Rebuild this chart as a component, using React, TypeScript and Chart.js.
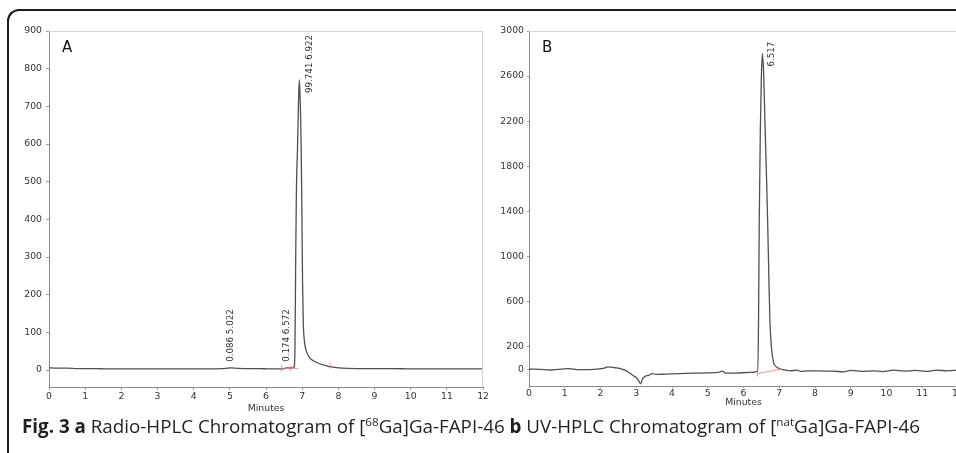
import React, { useEffect, useRef } from "react";
import { Chart, registerables } from "chart.js";
Chart.register(...registerables);

// ---------- Panel A: Radio-HPLC ----------
const timesA = [0, 0.2, 0.5, 0.8, 1.0, 1.3, 1.6, 2.0, 2.4, 2.8, 3.2, 3.6, 4.0, 4.4, 4.8, 4.95, 5.022, 5.1, 5.4, 5.8, 6.1, 6.4, 6.5, 6.572, 6.65, 6.74, 6.78, 6.80, 6.82, 6.84, 6.87, 6.90, 6.92, 6.94, 6.97, 6.99, 7.01, 7.03, 7.06, 7.10, 7.16, 7.22, 7.32, 7.45, 7.60, 7.72, 7.90, 8.10, 8.5, 9.0, 9.5, 10.0, 10.5, 11.0, 11.5, 12.0];
const valuesA = [6, 5, 5, 4, 4, 4, 3, 3, 3, 3, 3, 3, 3, 3, 4, 5, 6, 5, 4, 4, 3, 3, 4, 6, 5, 6, 9, 60, 300, 480, 590, 720, 770, 730, 600, 430, 230, 125, 78, 54, 40, 31, 24, 18, 13, 10, 7, 5, 4, 4, 4, 3, 3, 3, 3, 3];
const yTicksA = [0, 100, 200, 300, 400, 500, 600, 700, 800, 900];
const peakTimesA = [5.022, 6.572, 6.922];
const peakTextA = ["0.086 5.022", "0.174 6.572", "99.741 6.922"];
const redTimesA = [6.43, 6.9, 6.9, 6.43, 6.43, 6.43, 6.67, 6.67, 6.67, 7.77, 7.77];
const redValuesA = [4.5, 4.5, null, -4, 13, null, -3, 12, null, 3, 19];

// ---------- Panel B: UV-HPLC ----------
const timesB = [0, 0.3, 0.6, 0.9, 1.1, 1.4, 1.7, 2.0, 2.1, 2.2, 2.4, 2.6, 2.75, 2.9, 3.0, 3.06, 3.12, 3.18, 3.25, 3.35, 3.45, 3.55, 3.8, 4.2, 4.6, 5.0, 5.3, 5.4, 5.5, 5.8, 6.1, 6.3, 6.36, 6.40, 6.42, 6.44, 6.47, 6.50, 6.53, 6.56, 6.60, 6.64, 6.68, 6.71, 6.74, 6.78, 6.84, 6.92, 7.0, 7.1, 7.3, 7.5, 7.6, 7.8, 8.0, 8.3, 8.5, 8.8, 9.0, 9.3, 9.6, 9.9, 10.2, 10.5, 10.8, 11.1, 11.4, 11.7, 12.0];
const valuesB = [0, -2, -8, 0, 5, -5, -5, 3, 8, 20, 12, 0, -20, -55, -75, -100, -130, -85, -65, -55, -40, -47, -45, -40, -36, -33, -30, -18, -35, -35, -30, -28, -20, -25, 400, 1300, 2100, 2600, 2800, 2650, 2200, 1750, 1250, 800, 420, 200, 60, 20, 5, -5, -15, -10, -20, -15, -15, -18, -18, -25, -12, -20, -15, -22, -10, -18, -12, -20, -10, -15, -10];
const yTicksB = [0, 200, 600, 1000, 1400, 1800, 2200, 2600, 3000];
const peakTimesB = [6.517];
const peakTextB = ["6.517"];
const redTimesB = [6.39, 6.99, 6.99, 6.39, 6.39, 6.39, 6.99, 6.99];
const redValuesB = [-40, -5, null, -68, -8, null, -15, 20];

const xTicks = [0, 1, 2, 3, 4, 5, 6, 7, 8, 9, 10, 11, 12];

const FONT = '"DejaVu Sans", Verdana, sans-serif';

function pts(t: number[], v: (number | null)[]) {
  return t.map((x, i) => ({ x, y: v[i] }));
}

function peakValue(t: number[], v: number[], rt: number) {
  let m = -Infinity;
  for (let i = 0; i < t.length; i++) if (Math.abs(t[i] - rt) <= 0.04) m = Math.max(m, v[i]);
  if (m === -Infinity) {
    for (let i = 1; i < t.length; i++) {
      if (t[i] >= rt) {
        const f = (rt - t[i - 1]) / (t[i] - t[i - 1]);
        return v[i - 1] + f * (v[i] - v[i - 1]);
      }
    }
  }
  return m;
}

type PanelCfg = {
  letter: string;
  times: number[];
  values: number[];
  yTicks: number[];
  yMin: number;
  yMax: number;
  peakTimes: number[];
  peakText: string[];
  redTimes: number[];
  redValues: (number | null)[];
  width: number;
  height: number;
  padTop: number;
  padRight: number;
  yAxisWidth: number;
  xAxisHeight: number;
  xTickLen: number;
  xTickPad: number;
  yTickLen: number;
  yTickPad: number;
  titlePadBottom: number;
  rightBorder: boolean;
};

function makeDecor(cfg: PanelCfg) {
  return {
    id: "decor" + cfg.letter,
    afterDatasetsDraw(chart: any) {
      const { ctx, chartArea: ca, scales } = chart;
      const xs = scales.x;
      const ys = scales.y;
      ctx.save();
      ctx.strokeStyle = "#d4d4d4";
      ctx.lineWidth = 1;
      ctx.beginPath();
      ctx.moveTo(ca.left, Math.round(ca.top) + 0.5);
      ctx.lineTo(ca.right, Math.round(ca.top) + 0.5);
      if (cfg.rightBorder) {
        ctx.moveTo(Math.round(ca.right) - 0.5, ca.top);
        ctx.lineTo(Math.round(ca.right) - 0.5, ca.bottom);
      }
      ctx.stroke();

      ctx.fillStyle = "#111";
      ctx.font = "15px " + FONT;
      ctx.textAlign = "left";
      ctx.textBaseline = "alphabetic";
      ctx.fillText(cfg.letter, ca.left + 13, ca.top + 21);

      const maxV = Math.max(...cfg.values);
      ctx.font = "8.7px " + FONT;
      ctx.fillStyle = "#333";
      cfg.peakTimes.forEach((rt, i) => {
        const val = peakValue(cfg.times, cfg.values, rt);
        const px = xs.getPixelForValue(rt);
        const py = ys.getPixelForValue(val);
        let x: number, yb: number;
        if (val > maxV * 0.5) {
          x = px + 10;
          yb = py + 13;
        } else {
          x = px;
          yb = py - 6;
        }
        ctx.save();
        ctx.translate(x, yb);
        ctx.rotate(-Math.PI / 2);
        ctx.textAlign = "left";
        ctx.textBaseline = "middle";
        ctx.fillText(cfg.peakText[i], 0, 0);
        ctx.restore();
      });
      ctx.restore();
    },
  };
}

function Panel({ cfg, left }: { cfg: PanelCfg; left: number }) {
  const ref = useRef<HTMLCanvasElement>(null);
  useEffect(() => {
    const chart = new Chart(ref.current!, {
      type: "line",
      data: {
        datasets: [
          {
            data: pts(cfg.redTimes, cfg.redValues) as any,
            borderColor: "rgba(240,110,110,0.75)",
            borderWidth: 1,
            pointRadius: 0,
            spanGaps: false,
            tension: 0,
          },
          {
            data: pts(cfg.times, cfg.values) as any,
            borderColor: "#505050",
            borderWidth: 1.3,
            pointRadius: 0,
            cubicInterpolationMode: "monotone",
          },
        ],
      },
      options: {
        animation: false,
        responsive: false,
        events: [],
        layout: { padding: { top: cfg.padTop, right: cfg.padRight, left: 0, bottom: 0 } },
        plugins: { legend: { display: false }, tooltip: { enabled: false } },
        scales: {
          x: {
            type: "linear",
            min: 0,
            max: 12,
            afterBuildTicks: (s: any) => {
              s.ticks = xTicks.map((v) => ({ value: v }));
            },
            afterFit: (s: any) => {
              s.height = cfg.xAxisHeight;
            },
            grid: { drawOnChartArea: false, drawTicks: true, tickLength: cfg.xTickLen, color: "#9a9a9a" },
            border: { display: true, color: "#8a8a8a", dash: [1, 2] },
            ticks: {
              color: "#333",
              font: { family: FONT, size: 9.3 },
              padding: cfg.xTickPad,
              maxRotation: 0,
              autoSkip: false,
              callback: (v: any) => String(v),
            },
            title: {
              display: true,
              text: "Minutes",
              color: "#333",
              font: { family: FONT, size: 9.3 },
              padding: { top: 0, bottom: cfg.titlePadBottom },
            },
          },
          y: {
            type: "linear",
            min: cfg.yMin,
            max: cfg.yMax,
            afterBuildTicks: (s: any) => {
              s.ticks = cfg.yTicks.map((v) => ({ value: v }));
            },
            afterFit: (s: any) => {
              s.width = cfg.yAxisWidth;
            },
            grid: { drawOnChartArea: false, drawTicks: true, tickLength: cfg.yTickLen, color: "#9a9a9a" },
            border: { display: true, color: "#8a8a8a", dash: [1, 2] },
            ticks: {
              color: "#333",
              font: { family: FONT, size: 9.3 },
              padding: cfg.yTickPad,
              autoSkip: false,
              callback: (v: any) => String(v),
            },
          },
        },
      },
      plugins: [makeDecor(cfg)],
    });
    return () => chart.destroy();
  }, []);
  return (
    <canvas
      ref={ref}
      width={cfg.width}
      height={cfg.height}
      style={{ position: "absolute", left, top: 0, width: cfg.width, height: cfg.height }}
    />
  );
}

const cfgA: PanelCfg = {
  letter: "A",
  times: timesA,
  values: valuesA,
  yTicks: yTicksA,
  yMin: -45,
  yMax: 900,
  peakTimes: peakTimesA,
  peakText: peakTextA,
  redTimes: redTimesA,
  redValues: redValuesA,
  width: 490,
  height: 420,
  padTop: 31,
  padRight: 4,
  yAxisWidth: 49,
  xAxisHeight: 33,
  xTickLen: 3,
  xTickPad: 1,
  yTickLen: 3,
  yTickPad: 4,
  titlePadBottom: 6,
  rightBorder: true,
};

const cfgB: PanelCfg = {
  letter: "B",
  times: timesB,
  values: valuesB,
  yTicks: yTicksB,
  yMin: -150,
  yMax: 3000,
  peakTimes: peakTimesB,
  peakText: peakTextB,
  redTimes: redTimesB,
  redValues: redValuesB,
  width: 475,
  height: 420,
  padTop: 31,
  padRight: 7,
  yAxisWidth: 39,
  xAxisHeight: 34,
  xTickLen: 2,
  xTickPad: 0,
  yTickLen: 2,
  yTickPad: 3,
  titlePadBottom: 12,
  rightBorder: false,
};

const supStyle: React.CSSProperties = { fontSize: "0.62em", position: "relative", top: "-0.62em" };

export default function App() {
  return (
    <div
      style={{
        position: "absolute",
        left: 0,
        top: 0,
        width: 956,
        height: 453,
        overflow: "hidden",
        background: "#fff",
      }}
    >
      <div
        style={{
          position: "absolute",
          left: 7,
          top: 9,
          width: 1200,
          height: 460,
          borderTop: "2px solid #1c1c1c",
          borderLeft: "2px solid #1c1c1c",
          borderTopLeftRadius: 12,
          boxSizing: "border-box",
        }}
      />
      <Panel cfg={cfgA} left={0} />
      <Panel cfg={cfgB} left={490} />
      <div
        style={{
          position: "absolute",
          left: 22,
          top: 416,
          fontFamily: '"Open Sans", sans-serif',
          fontSize: 18.8,
          lineHeight: "20px",
          color: "#231f20",
          whiteSpace: "nowrap",
        }}
      >
        <b>Fig. 3 a</b> Radio-HPLC Chromatogram of [<span style={supStyle}>68</span>Ga]Ga-FAPI-46 <b>b</b> UV-HPLC
        Chromatogram of [<span style={supStyle}>nat</span>Ga]Ga-FAPI-46
      </div>
    </div>
  );
}
